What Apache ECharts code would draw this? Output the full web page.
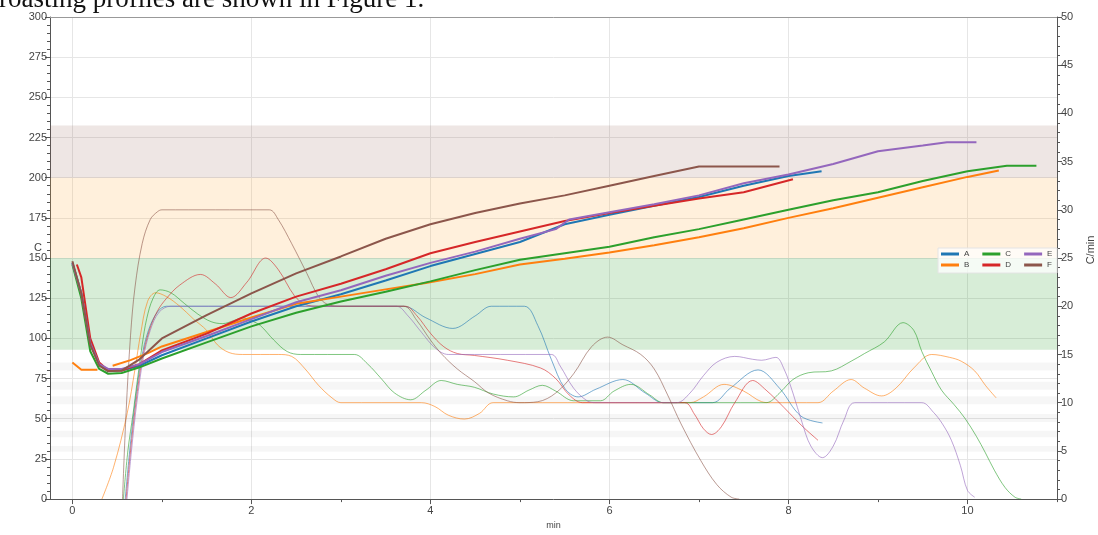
<!DOCTYPE html>
<html>
<head>
<meta charset="utf-8">
<script src="https://cdn.jsdelivr.net/npm/echarts@6/dist/echarts.min.js"></script>
<style>html,body{margin:0;padding:0;background:#fff}#c{width:1098px;height:535px}</style>
</head>
<body>
<div id="c"></div>
<script>
// ---- tick labels ----
const xMajorTicks = [0, 2, 4, 6, 8, 10];
const xMinorTicks = [1, 3, 5, 7, 9, 11];
const seriesNames = ['A', 'B', 'C', 'D', 'E', 'F'];
const legendRow1 = ['A', 'C', 'E'];
const legendRow2 = ['B', 'D', 'F'];
const colors = ['#1f77b4', '#ff7f0e', '#2ca02c', '#d62728', '#9467bd', '#8c564b'];

// ---- bean temperature (C, left axis) ----
const tBT_A = [0, 0.1, 0.2, 0.3, 0.4, 0.55, 0.75, 1.0, 1.5, 2.0, 2.5, 3.0, 3.5, 4.0, 4.5, 5.0, 5.5, 6.0, 6.5, 7.0, 7.5, 8.0, 8.37];
const bt_A  = [147, 128, 97, 84, 80, 80, 83, 89.5, 100, 110.5, 120, 127.5, 136, 145, 152.5, 160, 171, 177, 182.5, 188, 195, 201, 204];
const tBT_B = [0, 0.1, 0.2, 0.28, 0.36, 0.45, 0.65, 0.85, 1.0, 1.5, 2.0, 2.5, 3.0, 3.5, 3.95, 4.5, 5.0, 5.5, 6.0, 6.5, 7.0, 7.5, 8.0, 8.5, 9.0, 9.5, 10.0, 10.35];
const bt_B  = [85, 80.5, 80.5, 80.5, null, 83, 86.5, 91, 95, 104, 113, 121.5, 126, 130.5, 134.5, 140, 146, 149.5, 153.5, 158, 163, 168.5, 175, 181, 187.5, 194, 200.5, 204.5];
const tBT_C = [0, 0.1, 0.2, 0.3, 0.4, 0.55, 0.75, 1.0, 1.5, 2.0, 2.5, 3.0, 3.5, 4.0, 4.5, 5.0, 5.5, 6.0, 6.5, 7.0, 7.5, 8.0, 8.5, 9.0, 9.5, 10.0, 10.44, 10.77];
const bt_C  = [146, 125, 92, 81, 78, 78.5, 82, 87.5, 97.5, 107.5, 116, 123, 129, 135.5, 142.5, 149, 153, 157, 163, 168, 174, 180, 186, 191, 198, 204, 207.5, 207.5];
const tBT_D = [0.05, 0.1, 0.2, 0.3, 0.4, 0.55, 0.75, 1.0, 1.5, 2.0, 2.5, 3.0, 3.5, 4.0, 4.5, 5.0, 5.5, 6.0, 6.5, 7.0, 7.5, 8.05];
const bt_D  = [146, 138, 100, 85, 80, 80, 84, 92.5, 103, 115.5, 126, 134, 143, 153, 160, 166.5, 173, 178, 182.5, 187, 191, 199];
const tBT_E = [0, 0.1, 0.2, 0.3, 0.4, 0.55, 0.75, 1.0, 1.5, 2.0, 2.5, 3.0, 3.5, 4.0, 4.5, 5.0, 5.4, 5.55, 6.0, 6.5, 7.0, 7.5, 8.0, 8.5, 9.0, 9.5, 9.77, 10.1];
const bt_E  = [147, 128, 97, 84, 81, 81, 84, 91.5, 101.5, 112, 122.5, 130, 139, 147, 154, 162, 168, 174, 178.5, 183.5, 189, 196.5, 202, 208.5, 216.5, 220, 222, 222];
const tBT_F = [0, 0.1, 0.2, 0.3, 0.4, 0.55, 0.75, 1.0, 1.5, 2.0, 2.5, 3.0, 3.5, 4.0, 4.5, 5.0, 5.5, 6.0, 6.5, 7.0, 7.9];
const bt_F  = [148, 128, 96, 83, 79.5, 80, 87, 100, 114.5, 128, 140.5, 151, 162, 171, 178, 184, 189, 195, 201, 207, 207];

// ---- rate of rise (C/min, right axis) ----
const tRoR_A = [0.59, 0.64, 0.7, 0.77, 0.85, 0.95, 1.05, 2.0, 3.0, 3.7, 3.95, 4.25, 4.5, 4.68, 5.05, 5.2, 5.35, 5.5, 5.65, 5.85, 6.15, 6.4, 6.6, 7.15, 7.35, 7.66, 7.9, 8.14, 8.38];
const ror_A  = [0, 5, 10, 14.5, 17.5, 19.4, 20, 20, 20, 20, 18.8, 17.7, 19, 20, 20, 18, 14.5, 11.5, 10.6, 11.4, 12.4, 11, 10, 10, 11.5, 13.4, 11.5, 8.6, 7.9];
const tRoR_B = [0.33, 0.46, 0.61, 0.7, 0.76, 0.84, 0.93, 1.05, 1.2, 1.35, 1.5, 1.62, 1.75, 1.9, 2.3, 2.45, 2.6, 2.75, 2.9, 3.0, 3.9, 4.05, 4.2, 4.38, 4.55, 4.7, 6.9, 7.05, 7.28, 7.5, 7.7, 7.8, 8.33, 8.5, 8.7, 8.85, 9.04, 9.2, 9.4, 9.6, 9.8, 9.93, 10.08, 10.2, 10.32];
const ror_B  = [0, 3.3, 8.8, 13.5, 17, 20.5, 21.4, 21, 20, 18.7, 17.5, 16, 15.2, 15, 15, 14.8, 13.5, 11.8, 10.5, 10, 10, 9.6, 8.7, 8.3, 8.9, 10, 10, 10.6, 11.9, 11.2, 10.1, 10, 10, 11.2, 12.4, 11.5, 10.7, 11.5, 13.6, 15, 14.7, 14.3, 13.3, 11.8, 10.5];
const tRoR_C = [0.57, 0.62, 0.68, 0.72, 0.78, 0.83, 0.9, 0.98, 1.1, 1.25, 1.4, 1.55, 1.68, 1.8, 1.9, 2.0, 2.1, 2.25, 2.4, 2.55, 3.15, 3.3, 3.45, 3.6, 3.78, 3.95, 4.12, 4.3, 4.49, 4.7, 4.93, 5.1, 5.25, 5.4, 5.6, 5.9, 6.05, 6.24, 6.45, 6.6, 7.75, 7.9, 8.05, 8.22, 8.48, 8.7, 8.85, 9.07, 9.28, 9.4, 9.49, 9.6, 9.71, 9.85, 9.97, 10.1, 10.2, 10.3, 10.42, 10.53, 10.6];
const ror_C  = [0, 5, 9, 11.9, 16, 18.7, 20.8, 21.7, 21.4, 20.3, 19.2, 18.4, 18.2, 18.5, 18.8, 18.5, 18, 16.5, 15.3, 15, 15, 14, 12.5, 11, 10.3, 11.3, 12.3, 11.9, 11.6, 10.9, 10.6, 11.3, 11.8, 11.2, 10.2, 10.2, 11.2, 11.9, 10.8, 10, 10, 11, 12.4, 13.1, 13.3, 14.3, 15.1, 16.3, 18.3, 17.5, 15.3, 13.2, 11.3, 9.8, 8.4, 6.5, 4.8, 3, 1.2, 0.2, 0];
const tRoR_D = [0.6, 0.65, 0.71, 0.78, 0.86, 0.95, 1.05, 1.2, 1.43, 1.6, 1.77, 1.95, 2.16, 2.3, 2.48, 2.6, 2.75, 3.72, 3.85, 4.0, 4.15, 4.3, 4.49, 4.86, 5.23, 5.4, 5.55, 5.7, 6.84, 6.95, 7.05, 7.14, 7.25, 7.4, 7.6, 7.75, 7.95, 8.15, 8.33];
const ror_D  = [0, 5, 10, 14.5, 17.5, 19.5, 20.8, 22.2, 23.3, 22.3, 20.9, 22.5, 25, 23.8, 21.1, 20.2, 20, 20, 19, 17.2, 15.8, 15.1, 14.9, 14.4, 13.6, 12.5, 10.8, 10, 10, 8.8, 7.3, 6.7, 7.5, 10, 12.3, 11.3, 9.5, 7.6, 6.1];
const tRoR_E = [0.61, 0.66, 0.72, 0.79, 0.87, 0.97, 1.1, 2.0, 3.0, 3.62, 3.75, 3.9, 4.05, 4.2, 5.35, 5.45, 5.6, 5.75, 5.85, 6.75, 6.9, 7.05, 7.2, 7.4, 7.6, 7.7, 7.86, 7.95, 8.05, 8.15, 8.25, 8.38, 8.5, 8.62, 8.74, 9.49, 9.62, 9.72, 9.82, 9.92, 10.0, 10.08];
const ror_E  = [0, 5, 10, 14.5, 17.5, 19.4, 20, 20, 20, 20, 19, 17.3, 15.7, 15, 15, 13.8, 11.5, 10.2, 10, 10, 11, 12.8, 14.2, 14.8, 14.5, 14.4, 14.7, 13.5, 11, 8, 5.5, 4.3, 5.5, 8.2, 10, 10, 9, 7.8, 6.1, 3.5, 0.9, 0.2];
const tRoR_F = [0.56, 0.6, 0.65, 0.7, 0.78, 0.87, 0.95, 1.0, 1.6, 2.2, 2.3, 2.45, 2.62, 2.75, 2.85, 3.0, 3.7, 3.85, 4.0, 4.12, 4.3, 4.49, 4.65, 4.86, 5.0, 5.2, 5.4, 5.6, 5.8, 5.98, 6.15, 6.35, 6.5, 6.65, 6.8, 7.02, 7.2, 7.36, 7.45];
const ror_F  = [0, 9, 17, 22, 26.5, 29, 29.8, 30, 30, 30, 29, 26.5, 23.4, 21, 20.2, 20, 20, 18.5, 16.5, 15.1, 13.5, 12.2, 11, 10.2, 10, 10.1, 11, 13, 15.8, 16.8, 16, 15, 13.5, 10.8, 7.8, 4, 1.5, 0.2, 0];

// ---- background bands (C) ----
const phaseBands = [[200, 232.5], [150, 200], [93, 150]];
const phaseColors = ['rgba(140,86,75,0.15)', 'rgba(255,170,60,0.18)', 'rgba(44,160,44,0.19)'];
const greyStripes = [[80, 85], [68, 73], [59, 64], [48, 53], [38.5, 42.5], [29.5, 33]];

const FONT = 'Liberation Sans, Arial, sans-serif';
const zip = (t, v) => t.map((x, i) => [x, v[i]]);

const btT = [tBT_A, tBT_B, tBT_C, tBT_D, tBT_E, tBT_F];
const btV = [bt_A, bt_B, bt_C, bt_D, bt_E, bt_F];
const rorT = [tRoR_A, tRoR_B, tRoR_C, tRoR_D, tRoR_E, tRoR_F];
const rorV = [ror_A, ror_B, ror_C, ror_D, ror_E, ror_F];

const series = [];
series.push({
  type: 'line', name: 'bands', data: [], xAxisIndex: 0, yAxisIndex: 0, z: 1, silent: true,
  markArea: {
    silent: true,
    data: phaseBands.map((b, i) => [{ yAxis: b[0], itemStyle: { color: phaseColors[i] } }, { yAxis: b[1] }])
      .concat(greyStripes.map(b => [{ yAxis: b[0], itemStyle: { color: 'rgba(0,0,0,0.035)' } }, { yAxis: b[1] }]))
  }
});
seriesNames.forEach((n, i) => {
  series.push({
    type: 'line', name: n + ' RoR', data: zip(rorT[i], rorV[i]), xAxisIndex: 0, yAxisIndex: 1,
    showSymbol: false, symbol: 'none', smooth: 0.35, z: 3,
    lineStyle: { width: 1, color: colors[i], opacity: 0.6 }, itemStyle: { color: colors[i] }
  });
});
seriesNames.forEach((n, i) => {
  series.push({
    type: 'line', name: n, data: zip(btT[i], btV[i]), xAxisIndex: 0, yAxisIndex: 0,
    showSymbol: false, symbol: 'none', connectNulls: false, z: 4,
    lineStyle: { width: 2, color: colors[i] }, itemStyle: { color: colors[i] }
  });
});

const legendCommon = {
  orient: 'horizontal', icon: 'rect', itemWidth: 18, itemHeight: 3, itemGap: 13, padding: 0,
  textStyle: { fontSize: 8, color: '#444', fontFamily: FONT }, selectedMode: false
};

const chart = echarts.init(document.getElementById('c'), null, { renderer: 'canvas' });
chart.setOption({
  animation: false,
  backgroundColor: '#fff',
  color: colors,
  grid: { left: 50, right: 41, top: 17, bottom: 29, containLabel: false },
  graphic: [
    { type: 'text', left: -1, top: -14, z: 10, style: { text: 'roasting profiles are shown in Figure 1.', font: '27px "Liberation Serif", serif', fill: '#111' } },
    { type: 'rect', shape: { x: 938, y: 248, width: 119, height: 25 }, z: 9, style: { fill: 'rgba(255,255,255,0.75)', stroke: '#e4e4e4', lineWidth: 1 } },
    { type: 'text', x: 42, y: 248, z: 10, style: { text: 'C', font: '11px ' + FONT, fill: '#444', align: 'right', verticalAlign: 'middle' } },
    { type: 'text', x: 1091, y: 250, rotation: Math.PI / 2, z: 10, style: { text: 'C/min', font: '11px ' + FONT, fill: '#444', align: 'center', verticalAlign: 'middle' } }
  ],
  legend: [
    Object.assign({ data: legendRow1, left: 941, top: 250, z: 10 }, legendCommon),
    Object.assign({ data: legendRow2, left: 941, top: 261, z: 10 }, legendCommon)
  ],
  xAxis: [
    {
      type: 'value', min: -0.25, max: 11, position: 'bottom',
      name: 'min', nameLocation: 'middle', nameGap: 20,
      nameTextStyle: { fontSize: 9, color: '#444', fontFamily: FONT },
      axisLine: { show: true, onZero: false, lineStyle: { color: '#555', width: 1 } },
      axisTick: { show: true, length: 5, customValues: xMajorTicks, lineStyle: { color: '#555' } },
      axisLabel: { customValues: xMajorTicks, color: '#444', fontSize: 11, margin: 6, fontFamily: FONT },
      splitLine: { show: true, lineStyle: { color: '#e6e6e6', width: 1 } }
    },
    {
      type: 'value', min: -0.25, max: 11, position: 'bottom',
      axisLine: { show: false, onZero: false },
      axisTick: { show: true, length: 3, customValues: xMinorTicks, lineStyle: { color: '#555' } },
      axisLabel: { show: false, customValues: xMinorTicks },
      splitLine: { show: false }
    },
    {
      type: 'value', min: -0.25, max: 11, position: 'top',
      axisLine: { show: true, onZero: false, lineStyle: { color: '#999', width: 1 } },
      axisTick: { show: false }, axisLabel: { show: false }, splitLine: { show: false }
    }
  ],
  yAxis: [
    {
      type: 'value', min: 0, max: 300, interval: 25, position: 'left',
      axisLine: { show: true, onZero: false, lineStyle: { color: '#555', width: 1 } },
      axisTick: { show: true, length: 5, lineStyle: { color: '#555' } },
      minorTick: { show: true, splitNumber: 5, length: 3, lineStyle: { color: '#555' } },
      axisLabel: { color: '#444', fontSize: 11, margin: 3, fontFamily: FONT },
      splitLine: { show: true, lineStyle: { color: '#e6e6e6', width: 1 } }
    },
    {
      type: 'value', min: 0, max: 50, interval: 5, position: 'right',
      axisLine: { show: true, onZero: false, lineStyle: { color: '#555', width: 1 } },
      axisTick: { show: true, length: 5, lineStyle: { color: '#555' } },
      minorTick: { show: true, splitNumber: 5, length: 3, lineStyle: { color: '#555' } },
      axisLabel: { color: '#444', fontSize: 11, margin: 4, fontFamily: FONT },
      splitLine: { show: false }
    }
  ],
  series: series
});
</script>
</body>
</html>
